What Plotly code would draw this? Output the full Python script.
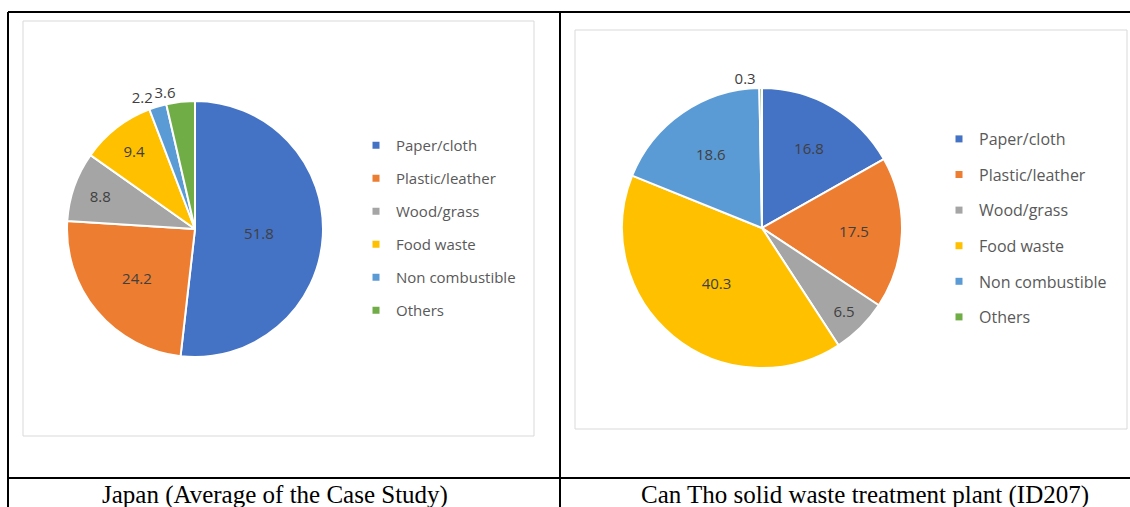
import plotly.graph_objects as go

W, H = 1130, 507

categories = ["Paper/cloth", "Plastic/leather", "Wood/grass", "Food waste", "Non combustible", "Others"]
japan_values = [51.8, 24.2, 8.8, 9.4, 2.2, 3.6]
cantho_values = [16.8, 17.5, 6.5, 40.3, 18.6, 0.3]
colors = ["#4472C4", "#ED7D31", "#A5A5A5", "#FFC000", "#5B9BD5", "#70AD47"]
# label placement per slice (the last Japan label is drawn by a second, transparent copy
# of the same pie so that it sits next to "2.2" instead of being pushed upward)
japan_textpos = ["inside", "inside", "inside", "inside", "outside", "none"]
japan_textpos_extra = ["none", "none", "none", "none", "none", "outside"]
cantho_textpos = ["inside", "inside", "inside", "inside", "inside", "outside"]
captions = ["Japan (Average of the Case Study)", "Can Tho solid waste treatment plant (ID207)"]


def px(x):
    return x / W


def py(y):
    return 1 - y / H


fig = go.Figure()

label_font = dict(family="Open Sans", size=15, color="#404040")
japan_domain = dict(x=[px(67), px(323)], y=[py(357), py(101)])
cantho_domain = dict(x=[px(622), px(902)], y=[py(368), py(88)])

fig.add_trace(go.Pie(
    labels=categories, values=japan_values, sort=False, direction="clockwise", rotation=0,
    marker=dict(colors=colors, line=dict(color="white", width=2)),
    texttemplate="%{value:.1f}", textposition=japan_textpos,
    insidetextorientation="horizontal", textfont=label_font,
    showlegend=False, hoverinfo="label+value",
    domain=japan_domain,
))
fig.add_trace(go.Pie(
    labels=categories, values=japan_values, sort=False, direction="clockwise", rotation=0,
    marker=dict(colors=["rgba(0,0,0,0)"] * len(categories), line=dict(width=0)),
    texttemplate="%{value:.1f}", textposition=japan_textpos_extra,
    textfont=label_font, showlegend=False, hoverinfo="skip",
    domain=japan_domain,
))
fig.add_trace(go.Pie(
    labels=categories, values=cantho_values, sort=False, direction="clockwise", rotation=0,
    marker=dict(colors=colors, line=dict(color="white", width=2)),
    texttemplate="%{value:.1f}", textposition=cantho_textpos,
    insidetextorientation="horizontal", textfont=label_font,
    showlegend=False, hoverinfo="label+value",
    domain=cantho_domain,
))

# legend entries (one group per entry for spacing)
for lg, prefix in (("legend", "j"), ("legend2", "c")):
    for i, (cat, col) in enumerate(zip(categories, colors)):
        fig.add_trace(go.Scatter(
            x=[None], y=[None], mode="markers",
            marker=dict(symbol="square", size=7, color=col),
            name=cat, legend=lg, legendgroup=f"{prefix}{i}", showlegend=True,
            hoverinfo="skip",
        ))

shapes = []
line_black = dict(color="black", width=2)
# table lines
shapes.append(dict(type="line", xref="paper", yref="paper", x0=px(8), x1=px(1130), y0=py(12), y1=py(12), line=line_black))
shapes.append(dict(type="line", xref="paper", yref="paper", x0=px(8), x1=px(8), y0=py(12), y1=py(507), line=line_black))
shapes.append(dict(type="line", xref="paper", yref="paper", x0=px(560), x1=px(560), y0=py(12), y1=py(507), line=line_black))
shapes.append(dict(type="line", xref="paper", yref="paper", x0=px(8), x1=px(1130), y0=py(478), y1=py(478), line=line_black))
# chart boxes
shapes.append(dict(type="rect", xref="paper", yref="paper", x0=px(23), x1=px(534), y0=py(436), y1=py(21), line=dict(color="#D9D9D9", width=1)))
shapes.append(dict(type="rect", xref="paper", yref="paper", x0=px(575), x1=px(1127), y0=py(429), y1=py(30), line=dict(color="#D9D9D9", width=1)))

annotations = [
    dict(text=captions[0], x=px(275), y=py(495), xref="paper", yref="paper", showarrow=False,
         xanchor="center", yanchor="middle", font=dict(family="Liberation Serif", size=25, color="black")),
    dict(text=captions[1], x=px(865), y=py(495), xref="paper", yref="paper", showarrow=False,
         xanchor="center", yanchor="middle", font=dict(family="Liberation Serif", size=25, color="black")),
]

fig.update_layout(
    width=W, height=H, margin=dict(l=0, r=0, t=0, b=0),
    paper_bgcolor="white", plot_bgcolor="white",
    xaxis=dict(visible=False), yaxis=dict(visible=False),
    shapes=shapes, annotations=annotations,
    uniformtext=dict(minsize=15, mode="show"),
    legend=dict(x=px(356), y=py(129), xanchor="left", yanchor="top",
                font=dict(family="Open Sans", size=15, color="#595959"),
                tracegroupgap=10.5, bgcolor="rgba(0,0,0,0)", borderwidth=0),
    legend2=dict(x=px(939), y=py(122), xanchor="left", yanchor="top",
                 font=dict(family="Open Sans", size=16, color="#595959"),
                 tracegroupgap=11.8, bgcolor="rgba(0,0,0,0)", borderwidth=0),
)

fig.write_html("out.html")
